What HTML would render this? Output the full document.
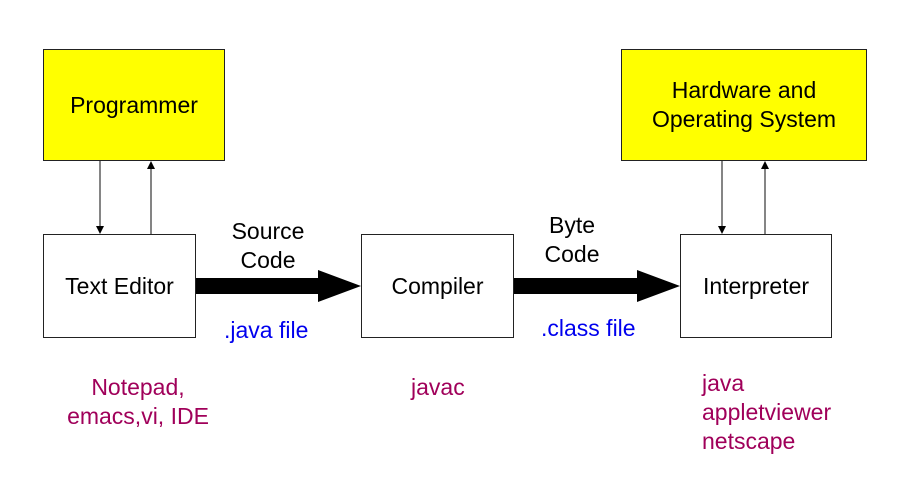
<!DOCTYPE html>
<html><head><style>
body{margin:0;width:905px;height:501px;background:#fff;position:relative;overflow:hidden;font-family:"Liberation Sans","DejaVu Sans",sans-serif;}
.b{position:absolute;box-sizing:border-box;border:1.5px solid #222;display:flex;align-items:center;justify-content:center;text-align:center;font-size:23px;line-height:29px;color:#000;background:#fff;}
.y{background:#ffff00;}
.t{position:absolute;font-size:23px;line-height:29px;white-space:nowrap;}
.c{text-align:center;}
.p{color:#a0005a;}
.bl{color:#0000ee;}
</style></head><body>
<div class="b y" style="left:43px;top:49px;width:182px;height:112px;">Programmer</div>
<div class="b y" style="left:621px;top:49px;width:246px;height:112px;">Hardware and<br>Operating System</div>
<div class="b" style="left:43px;top:234px;width:153px;height:104px;">Text Editor</div>
<div class="b" style="left:361px;top:234px;width:153px;height:104px;">Compiler</div>
<div class="b" style="left:680px;top:234px;width:152px;height:104px;">Interpreter</div>
<svg style="position:absolute;left:0;top:0" width="905" height="501">
<g stroke="#333" stroke-width="1.2" fill="#000">
<line x1="100" y1="161" x2="100" y2="228"/><polygon points="96,226 104,226 100,234" stroke="none"/>
<line x1="151" y1="234" x2="151" y2="167"/><polygon points="147,169 155,169 151,161" stroke="none"/>
<line x1="722" y1="161" x2="722" y2="228"/><polygon points="718,226 726,226 722,234" stroke="none"/>
<line x1="765" y1="234" x2="765" y2="167"/><polygon points="761,169 769,169 765,161" stroke="none"/>
</g>
<polygon points="196,278 318,278 318,270 361,286 318,302 318,294 196,294" fill="#000"/>
<polygon points="514,278 637,278 637,270 680,286 637,302 637,294 514,294" fill="#000"/>
</svg>
<div class="t c" style="left:218px;top:217px;width:100px;">Source<br>Code</div>
<div class="t c" style="left:522px;top:211px;width:100px;">Byte<br>Code</div>
<div class="t bl" style="left:224px;top:316px;">.java file</div>
<div class="t bl" style="left:541px;top:314px;">.class file</div>
<div class="t p c" style="left:48px;top:373px;width:180px;">Notepad,<br>emacs,vi, IDE</div>
<div class="t p" style="left:411px;top:373px;">javac</div>
<div class="t p" style="left:702px;top:369px;">java<br>appletviewer<br>netscape</div>
</body></html>
